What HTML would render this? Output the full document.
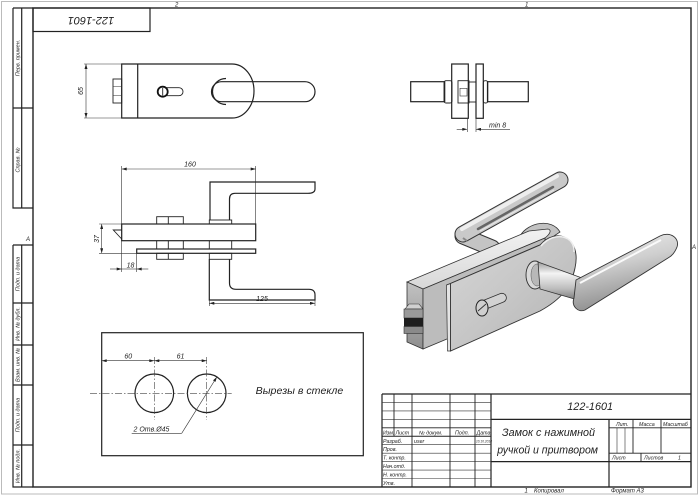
<!DOCTYPE html>
<html><head><meta charset="utf-8"><style>
html,body{margin:0;padding:0;background:#fff;}
svg{display:block;}
text{font-family:"Liberation Sans","DejaVu Sans",sans-serif;font-style:italic;fill:#222;}
.k{stroke:#222;stroke-width:1.2;fill:none;}
.t{stroke:#333;stroke-width:0.6;fill:none;}
.m{stroke:#222;stroke-width:0.9;fill:none;}
.c{stroke:#444;stroke-width:0.6;fill:none;stroke-dasharray:7 2 1.5 2;}
</style></head><body>
<svg width="700" height="495" viewBox="0 0 700 495" xmlns="http://www.w3.org/2000/svg">
<defs>
<marker id="a" viewBox="0 0 10 6" refX="10" refY="3" markerWidth="6" markerHeight="3" orient="auto-start-reverse" markerUnits="userSpaceOnUse"><path d="M0,0 L10,3 L0,6 z" fill="#222"/></marker>
<linearGradient id="gTop" x1="0" y1="0" x2="0" y2="1"><stop offset="0" stop-color="#f2f2f2"/><stop offset="1" stop-color="#d8d8d8"/></linearGradient>
<linearGradient id="gPlate" x1="0" y1="0" x2="1" y2="1"><stop offset="0" stop-color="#d6d6d6"/><stop offset="0.5" stop-color="#c6c6c6"/><stop offset="1" stop-color="#b2b2b2"/></linearGradient>
<linearGradient id="gSide" x1="0" y1="0" x2="0" y2="1"><stop offset="0" stop-color="#c2c2c2"/><stop offset="1" stop-color="#8e8e8e"/></linearGradient>
<linearGradient id="gCyl" x1="0" y1="0" x2="0" y2="1"><stop offset="0" stop-color="#9a9a9a"/><stop offset="0.3" stop-color="#f4f4f4"/><stop offset="0.7" stop-color="#bdbdbd"/><stop offset="1" stop-color="#7a7a7a"/></linearGradient>
<linearGradient id="gGrip" x1="0" y1="0" x2="0.3" y2="1"><stop offset="0" stop-color="#f0f0f0"/><stop offset="0.45" stop-color="#cfcfcf"/><stop offset="1" stop-color="#8c8c8c"/></linearGradient>
</defs>

<!-- outer border -->
<rect x="1.5" y="1.5" width="696" height="492.5" fill="none" stroke="#bbb" stroke-width="1"/>
<!-- inner frame -->
<rect x="33" y="8" width="658" height="479" fill="none" stroke="#222" stroke-width="1.4"/>

<!-- zone marks -->
<text x="175" y="6.5" font-size="6">2</text>
<text x="525" y="6.5" font-size="6">1</text>
<text x="26" y="241" font-size="6">A</text>
<text x="692" y="249" font-size="6">A</text>

<!-- mirrored stamp -->
<rect x="33" y="8" width="117" height="23.5" class="k"/>
<text x="0" y="0" font-size="11" transform="translate(91,20) rotate(180)" text-anchor="middle" dominant-baseline="middle">122-1601</text>

<!-- left strip top -->
<path d="M13,8 L13,208 L33,208 M13,8 L33,8 M21.7,8 L21.7,208 M13,108 L33,108" class="k"/>
<text font-size="5.5" transform="translate(19.5,58) rotate(-90)" text-anchor="middle">Перв. примен.</text>
<text font-size="5.5" transform="translate(19.5,160) rotate(-90)" text-anchor="middle">Справ. №</text>

<!-- left strip bottom -->
<path d="M13,245 L13,487 L33,487 M13,245 L33,245 M21.7,245 L21.7,487 M13,303 L33,303 M13,345 L33,345 M13,385 L33,385 M13,445 L33,445" class="k"/>
<text font-size="5.5" transform="translate(19.5,274) rotate(-90)" text-anchor="middle">Подп. и дата</text>
<text font-size="5.5" transform="translate(19.5,324) rotate(-90)" text-anchor="middle">Инв. № дубл.</text>
<text font-size="5.5" transform="translate(19.5,365) rotate(-90)" text-anchor="middle">Взам. инв. №</text>
<text font-size="5.5" transform="translate(19.5,415) rotate(-90)" text-anchor="middle">Подп. и дата</text>
<text font-size="5.5" transform="translate(19.5,466) rotate(-90)" text-anchor="middle">Инв. № подл.</text>

<!-- ===== View 1 (top-left) ===== -->
<path d="M84,64 L121.7,64 M84,118 L121.7,118" class="t"/>
<path d="M86,64 L86,118" class="t" marker-start="url(#a)" marker-end="url(#a)"/>
<text font-size="7" transform="translate(83,91) rotate(-90)" text-anchor="middle">65</text>
<path d="M121.7,64 L232,64 A22,27 0 0 1 232,118 L121.7,118 Z" class="k"/>
<path d="M137.7,64 L137.7,118" class="k"/>
<rect x="113" y="79" width="8.7" height="24" class="m"/>
<path d="M113,86.5 L121.7,86.5 M113,95.5 L121.7,95.5" class="t"/>
<rect x="159" y="87.7" width="24" height="8" rx="4" class="m"/>
<circle cx="162.7" cy="91.7" r="5" fill="#fff" stroke="#111" stroke-width="1.8"/>
<path d="M162.7,88 L162.7,95.5" class="m"/>
<rect x="211.5" y="81.7" width="103.5" height="20" rx="10" class="k"/>
<path d="M226,78.5 A13.5,13 0 1 0 226,104.5" class="k"/>

<!-- ===== View 2 (top-right) ===== -->
<rect x="410.7" y="81.7" width="34" height="20" class="k"/>
<rect x="444" y="80.7" width="8" height="22.3" rx="2" class="m"/>
<rect x="451.7" y="64" width="16.6" height="54.3" class="k"/>
<rect x="476" y="64" width="7.3" height="54.3" class="k"/>
<rect x="483.3" y="80.7" width="4.5" height="22.3" rx="2" class="m"/>
<rect x="487.5" y="81.7" width="40.8" height="20" class="k"/>
<rect x="458" y="80.7" width="11" height="22.3" class="m"/>
<rect x="460" y="88.3" width="7" height="7.7" class="t"/>
<rect x="469" y="82" width="7" height="20" class="m"/>
<path d="M467.3,118.3 L467.3,132 M476,118.3 L476,132" class="t"/>
<path d="M456.7,129.3 L467.3,129.3" class="t" marker-end="url(#a)"/>
<path d="M476,129.3 L510,129.3" class="t" marker-start="url(#a)"/>
<text x="489" y="127.5" font-size="7">min 8</text>

<!-- ===== View 3 (middle) ===== -->
<path d="M121.7,166 L121.7,272 M255.7,166 L255.7,224" class="t"/>
<path d="M121.7,169 L255.7,169" class="t" marker-start="url(#a)" marker-end="url(#a)"/>
<text x="190" y="166.5" font-size="7" text-anchor="middle">160</text>
<path d="M210,220 L210,182 L315,182 L315,189 Q315,193.3 308,193.3 L235,193.3 Q229.5,193.3 229.5,199 L229.5,220" class="k"/>
<rect x="209.3" y="220" width="22.4" height="4" class="m"/>
<rect x="156.7" y="216.7" width="26.6" height="7.3" class="m"/>
<path d="M168.3,216.7 L168.3,224" class="m"/>
<rect x="121.7" y="224" width="134" height="16.7" class="k"/>
<path d="M121.7,230 L113.3,230 L121.7,239" class="m"/>
<path d="M156.7,240.7 L156.7,249 M168.3,240.7 L168.3,249 M183.3,240.7 L183.3,249 M209.3,240.7 L209.3,249 M231.7,240.7 L231.7,249" class="m"/>
<rect x="136.7" y="249" width="119" height="4.3" class="k"/>
<rect x="156.7" y="253.3" width="26.6" height="6" class="m"/>
<path d="M168.3,253.3 L168.3,259.3" class="m"/>
<rect x="209.3" y="253.3" width="22.4" height="6" class="m"/>
<path d="M209.3,259.3 L209.3,300 L315,300 L315,295 Q315,289.3 309,289.3 L236,289.3 Q229.5,289.3 229.5,283 L229.5,259.3" class="k"/>
<path d="M209.3,300 L209.3,306 M315,300 L315,306" class="t"/>
<path d="M209.3,303.3 L315,303.3" class="t" marker-start="url(#a)" marker-end="url(#a)"/>
<text x="262" y="301" font-size="7" text-anchor="middle">125</text>
<path d="M99,224 L121.7,224 M99,253.3 L136.7,253.3" class="t"/>
<path d="M101.7,224 L101.7,253.3" class="t" marker-start="url(#a)" marker-end="url(#a)"/>
<text font-size="7" transform="translate(99,239) rotate(-90)" text-anchor="middle">37</text>
<path d="M136.7,253.3 L136.7,272" class="t"/>
<path d="M110,269 L121.7,269" class="t" marker-end="url(#a)"/>
<path d="M121.7,269 L136.7,269" class="t"/>
<path d="M136.7,269 L148.3,269" class="t" marker-start="url(#a)"/>
<text x="130.5" y="267.5" font-size="7" text-anchor="middle">18</text>

<!-- ===== View 4 (cutouts) ===== -->
<rect x="101.7" y="332.7" width="261.6" height="123" class="k"/>
<circle cx="154.3" cy="393.3" r="19.3" class="k"/>
<circle cx="206.7" cy="393.3" r="19.3" class="k"/>
<path d="M90,393.3 L231.7,393.3" class="c"/>
<path d="M154.3,357 L154.3,420 M206.7,357 L206.7,420" class="c"/>
<path d="M101.7,355 L101.7,363" class="t"/>
<path d="M101.7,360.7 L154.3,360.7" class="t" marker-start="url(#a)" marker-end="url(#a)"/>
<path d="M154.3,360.7 L206.7,360.7" class="t" marker-start="url(#a)" marker-end="url(#a)"/>
<text x="128.3" y="358.5" font-size="7" text-anchor="middle">60</text>
<text x="180.5" y="358.5" font-size="7" text-anchor="middle">61</text>
<path d="M181.7,433.3 L216.9,376.9" class="t" marker-end="url(#a)"/>
<path d="M131.7,433.3 L181.7,433.3" class="t"/>
<text x="133.5" y="431.5" font-size="7">2 Отв.Ø45</text>
<text x="255.7" y="394" font-size="10.5" textLength="87.6" lengthAdjust="spacingAndGlyphs">Вырезы в стекле</text>

<!-- ===== Isometric view ===== -->
<!-- back plate round end -->
<path d="M520,236 C528,222 552,218 560,232 L548,240 Z" fill="#c2c2c2" stroke="#333" stroke-width="0.8"/>
<!-- back lever -->
<path d="M463,236 L492,248" stroke="#333" stroke-width="17" stroke-linecap="round" fill="none"/>
<path d="M463,236 L492,248" stroke="#c4c4c4" stroke-width="15" stroke-linecap="round" fill="none"/>
<path d="M463,234 L560,180" stroke="#333" stroke-width="17" stroke-linecap="round" fill="none"/>
<path d="M463,234 L560,180" stroke="#c9c9c9" stroke-width="15" stroke-linecap="round" fill="none"/>
<path d="M462,229 L557,176" stroke="#eeeeee" stroke-width="4" stroke-linecap="round" fill="none"/>
<path d="M478,229 L553,187" stroke="#666" stroke-width="2.5" stroke-linecap="round" fill="none"/>
<path d="M480,231 L554,190" stroke="#e6e6e6" stroke-width="1.2" fill="none"/>
<path d="M463,238 L467,241" stroke="#888" stroke-width="2" fill="none"/>
<!-- box -->
<path d="M407,282 L423,289 L545,238 C550,234 552,230 548,229 L529,231 Z" fill="url(#gTop)" stroke="#333" stroke-width="0.8"/>
<path d="M407,282 L423,289 L423,349 L407,342 Z" fill="url(#gSide)" stroke="#333" stroke-width="0.8"/>
<path d="M423,289 L545,238 L545,298 L423,349 Z" fill="#bcbcbc" stroke="#333" stroke-width="0.8"/>
<!-- nut -->
<path d="M405,309 L409,304 L419,304 L423,309 Z" fill="#d0d0d0" stroke="#333" stroke-width="0.6"/>
<rect x="404" y="309" width="19" height="9" fill="#9a9a9a" stroke="#333" stroke-width="0.6"/>
<rect x="404" y="318" width="19" height="8.5" fill="#1e1e1e"/>
<rect x="404" y="326.5" width="19" height="7" fill="#8a8a8a" stroke="#333" stroke-width="0.6"/>
<!-- front plate -->
<path d="M446.5,285 L450.5,283.5 L450.5,351 L447.5,351 Z" fill="#e4e4e4" stroke="#333" stroke-width="0.7"/>
<path d="M446.5,285 L538,245.5 L542,244 L450.5,283.5 Z" fill="#ededed" stroke="#333" stroke-width="0.6"/>
<path d="M450.5,283.5 L540,245 C555,227 582,236 575,268 C571,288 560,300 540,311 L450.5,351 Z" fill="url(#gPlate)" stroke="#333" stroke-width="0.9"/>
<path d="M541,246 C555,230 575,236 574,252" stroke="#eeeeee" stroke-width="1.5" fill="none"/>
<!-- key cylinder -->
<rect x="481" y="296.5" width="26" height="9" rx="4.5" transform="rotate(-22 494 301)" fill="#d2d2d2" stroke="#333" stroke-width="0.8"/>
<ellipse cx="482" cy="308" rx="6" ry="8" fill="#cfcfcf" stroke="#222" stroke-width="1"/>
<path d="M478,311 L486,304" stroke="#333" stroke-width="0.9"/>
<!-- front lever -->
<ellipse cx="535" cy="275" rx="9" ry="14" fill="#d9d9d9" stroke="#333" stroke-width="0.9"/>
<ellipse cx="537" cy="275" rx="6" ry="11" fill="#b8b8b8" stroke="#555" stroke-width="0.5"/>
<path d="M538,262 L582,278 L578,300 L540,289 Z" fill="url(#gCyl)" stroke="#333" stroke-width="0.8"/>
<path d="M576,280 L660,236 C670,231 680,238 677,247 C675,252 672,256 668,258 L585,310 C578,313 571,306 574,298 Z" fill="url(#gGrip)" stroke="#333" stroke-width="0.9"/>
<path d="M580,283 L661,240" stroke="#fafafa" stroke-width="2" fill="none"/>

<!-- ===== Title block ===== -->
<path d="M382,394 L691,394 M382,394 L382,487 M491,394 L491,487" class="k"/>
<path d="M382,402.45 L491,402.45 M382,410.9 L491,410.9 M382,419.35 L491,419.35 M382,444.7 L491,444.7 M382,453.15 L491,453.15 M382,461.6 L491,461.6 M382,470.05 L491,470.05 M382,478.5 L491,478.5" class="t"/>
<path d="M382,427.8 L491,427.8 M382,436.25 L491,436.25" class="m"/>
<path d="M394,394 L394,436.25 M412,394 L412,487 M450,394 L450,487 M475,394 L475,487" class="m"/>
<path d="M491,419.35 L691,419.35 M491,461.6 L691,461.6 M609,419.35 L609,487" class="k"/>
<path d="M609,427.8 L691,427.8 M609,453.15 L691,453.15 M633,419.35 L633,453.15 M661,419.35 L661,453.15 M641,453.15 L641,461.6" class="m"/>
<path d="M617,427.8 L617,453.15 M625,427.8 L625,453.15" class="t"/>

<text x="567.3" y="410" font-size="11" textLength="45.7" lengthAdjust="spacingAndGlyphs">122-1601</text>
<text x="502" y="436" font-size="11" textLength="93" lengthAdjust="spacingAndGlyphs">Замок с нажимной</text>
<text x="497.3" y="453.5" font-size="11" textLength="100.7" lengthAdjust="spacingAndGlyphs">ручкой и притвором</text>

<g font-size="5.3">
<text x="383" y="434.3">Изм.</text>
<text x="395.5" y="434.3">Лист</text>
<text x="419" y="434.3">№ докум.</text>
<text x="455" y="434.3">Подп.</text>
<text x="476.5" y="434.3">Дата</text>
<text x="383" y="442.8">Разраб.</text>
<text x="414" y="442.8">user</text>
<text x="383" y="451.2">Пров.</text>
<text x="383" y="459.7">Т. контр.</text>
<text x="383" y="468.1">Нач.отд.</text>
<text x="383" y="476.6">Н. контр.</text>
<text x="383" y="485">Утв.</text>
<text x="616" y="425.8">Лит.</text>
<text x="639" y="425.8">Масса</text>
<text x="663" y="425.8">Масштаб</text>
<text x="612" y="459.7">Лист</text>
<text x="644" y="459.7">Листов</text>
<text x="678" y="459.7">1</text>
</g>
<text x="476" y="442.3" font-size="3.2">10.10.2018</text>

<text x="524.5" y="492.5" font-size="6">1</text>
<text x="534" y="492.5" font-size="6">Копировал</text>
<text x="611" y="492.5" font-size="6">Формат А3</text>
</svg>
</body></html>
